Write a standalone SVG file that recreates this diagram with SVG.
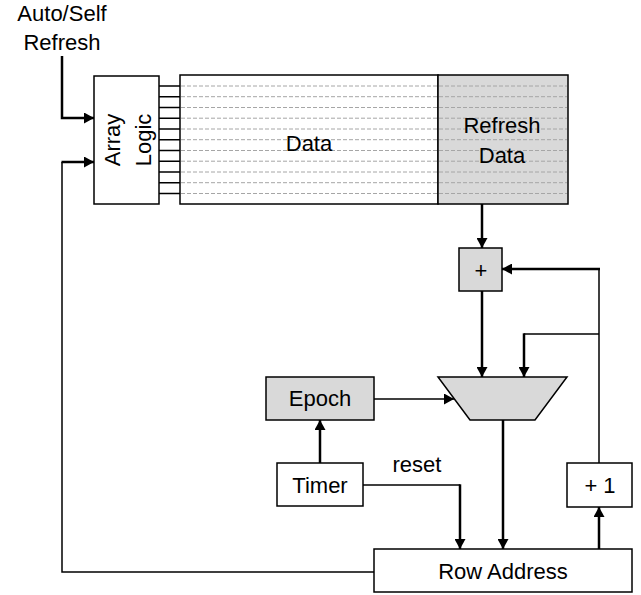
<svg xmlns="http://www.w3.org/2000/svg" width="641" height="595" viewBox="0 0 641 595">
<style>
text{font-family:"Liberation Sans",Arial,sans-serif;font-size:22px;fill:#000;text-anchor:middle}
.box{fill:#fff;stroke:#000;stroke-width:1.5}
.grey{fill:#d9d9d9;stroke:#000;stroke-width:1.5}
.dash{stroke:#a6a6a6;stroke-width:1;stroke-dasharray:4 2;fill:none}
.stub{stroke:#000;stroke-width:1.5;fill:none}
.thick{stroke:#000;stroke-width:2.5;fill:none}
.thin{stroke:#000;stroke-width:1.5;fill:none}
.arr{marker-end:url(#ah)}
</style>
<defs>
<marker id="ah" viewBox="0 0 10 11" refX="10" refY="5.5" markerWidth="10" markerHeight="11" markerUnits="userSpaceOnUse" orient="auto">
<path d="M0,0 L10,5.5 L0,11 z" fill="#000"/>
</marker>
</defs>

<g id="label-auto-self">
<text x="62" y="21">Auto/Self</text>
<text x="62" y="50">Refresh</text>
</g>

<g id="array-logic">
<rect class="box" x="94" y="76" width="65" height="128"/>
<text transform="translate(120,140) rotate(-90)">Array</text>
<text transform="translate(151,140) rotate(-90)">Logic</text>
</g>

<g id="stubs">
<path class="stub" d="M159,86H180M159,96.7H180M159,107.5H180M159,118.2H180M159,129H180M159,139.7H180M159,150.5H180M159,161.2H180M159,172H180M159,182.7H180M159,193.5H180"/>
</g>

<g id="data">
<rect class="box" x="180" y="75" width="258" height="129"/>
<path class="dash" d="M181,86H437M181,96.7H437M181,107.5H437M181,118.2H437M181,129H437M181,139.7H437M181,150.5H437M181,161.2H437M181,172H437M181,182.7H437M181,193.5H437"/>
<text x="309" y="151">Data</text>
</g>

<g id="refresh-data">
<rect class="grey" x="438" y="75" width="130" height="129"/>
<path class="dash" d="M439,86H567M439,96.7H567M439,107.5H567M439,118.2H567M439,129H567M439,139.7H567M439,150.5H567M439,161.2H567M439,172H567M439,182.7H567M439,193.5H567"/>
<text x="502" y="133">Refresh</text>
<text x="502" y="163">Data</text>
</g>

<g id="adder">
<rect class="grey" x="459" y="248" width="43" height="43"/>
<text x="481" y="278">+</text>
</g>

<g id="mux">
<polygon class="grey" points="438,377 567,377 535,420 470,420"/>
</g>

<g id="epoch">
<rect class="grey" x="266" y="377" width="108" height="43"/>
<text x="320" y="406">Epoch</text>
</g>

<g id="timer">
<rect class="box" x="277" y="463" width="86" height="43"/>
<text x="320" y="493">Timer</text>
</g>

<g id="plus-one">
<rect class="box" x="567" y="463" width="65" height="44"/>
<text x="600" y="493">+ 1</text>
</g>

<g id="row-address">
<rect class="box" x="374" y="549" width="258" height="43"/>
<text x="503" y="579">Row Address</text>
</g>

<g id="connectors">
<path class="thick arr" d="M62,56V118H94"/>
<path class="thin" d="M374,572H62V162"/>
<path class="thick arr" d="M61.5,162H94"/>
<path class="thick arr" d="M482,204V248"/>
<path class="thick arr" d="M482,291V377"/>
<path class="thin" d="M599,463V269"/>
<path class="thick arr" d="M600,269H502"/>
<path class="thin" d="M599,334H524"/>
<path class="thick arr" d="M524,333.3V377"/>
<path class="thin arr" d="M374,399H454"/>
<path class="thick arr" d="M320,463V420"/>
<path class="thin" d="M363,485H460"/>
<path class="thick arr" d="M460,484.3V549"/>
<path class="thick arr" d="M503,420V549"/>
<path class="thick arr" d="M599,549V507"/>
<text x="417" y="472">reset</text>
</g>
</svg>
